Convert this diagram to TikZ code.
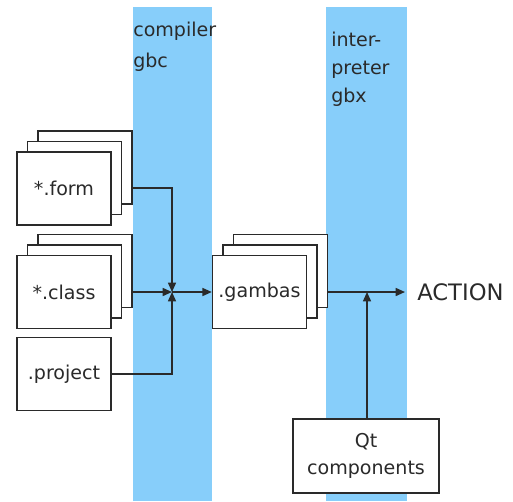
\documentclass[tikz,border=0pt]{standalone}
\usepackage{fontspec}
\setmainfont{DejaVu Sans}
\usetikzlibrary{arrows.meta,calc}
\definecolor{band}{HTML}{87CEFA}
\definecolor{ink}{HTML}{2A2A2A}
\tikzset{
  box/.style={draw=ink, fill=white, line width=1.1pt, minimum width=70.5pt,
    minimum height=54.5pt, inner sep=0pt, text=ink,
    font=\fontsize{14.3}{20}\selectfont},
  backbox/.style={box},
  wire/.style={draw=ink, line width=1.1pt},
  arr/.style={wire, -{Triangle[length=7pt,width=6pt]}},
  label/.style={inner sep=0pt, text=ink, align=left,
    font=\fontsize{14.3}{21}\selectfont},
}
% a stack of three sheets; #1 = name, #2 = centre of the front sheet, #3 = text
\newcommand{\sheetstack}[3]{%
  \node[backbox] (#1-3) at ($(#2)+(21,-21)$) {};
  \node[backbox] (#1-2) at ($(#2)+(10.5,-10.5)$) {};
  \node[box] (#1) at (#2) {#3};
}
\begin{document}
\begin{tikzpicture}[x=0.75pt, y=-0.75pt]
  \useasboundingbox (0,0) rectangle (513,501);
  % the two stages
  \fill[band] (133,7) rectangle (212,501);
  \fill[band] (326,7) rectangle (407,501);
  \node[label, anchor=north west, font=\fontsize{14.3}{23}\selectfont] (gbc) at (133,22) {compiler\\gbc};
  \node[label, anchor=north west] (gbx) at (331,32) {inter-\\preter\\gbx};

  % sources
  \sheetstack{form}{64,188.5}{*.form}
  \sheetstack{class}{64,292}{*.class}
  \node[box] (project) at (64,374) {.project};

  % compiled archive
  \sheetstack{gambas}{259.5,292}{.gambas}

  % runtime
  \node[box, minimum width=109.5pt, minimum height=55.5pt, align=center,
    font=\fontsize{14.3}{20}\selectfont] (qt) at (366,456) {Qt\\components};
  \node[label, anchor=west, inner xsep=9pt, font=\fontsize{17}{20}\selectfont] (action) at (405,292) {ACTION};

  \coordinate (j1) at (172,292);
  \coordinate (j2) at (367,292);

  \draw[arr] (form-3.east |- 0,188) -| (j1);
  \draw[arr] (class-3.east |- j1) -- (j1);
  \draw[arr] (project.east) -| (j1);
  \draw[arr] (j1) -- (gambas.west);

  \draw[arr] (gambas-3.east |- j2) -- (action.west);
  \draw[arr] (qt.north -| j2) -- (j2);
\end{tikzpicture}
\end{document}
